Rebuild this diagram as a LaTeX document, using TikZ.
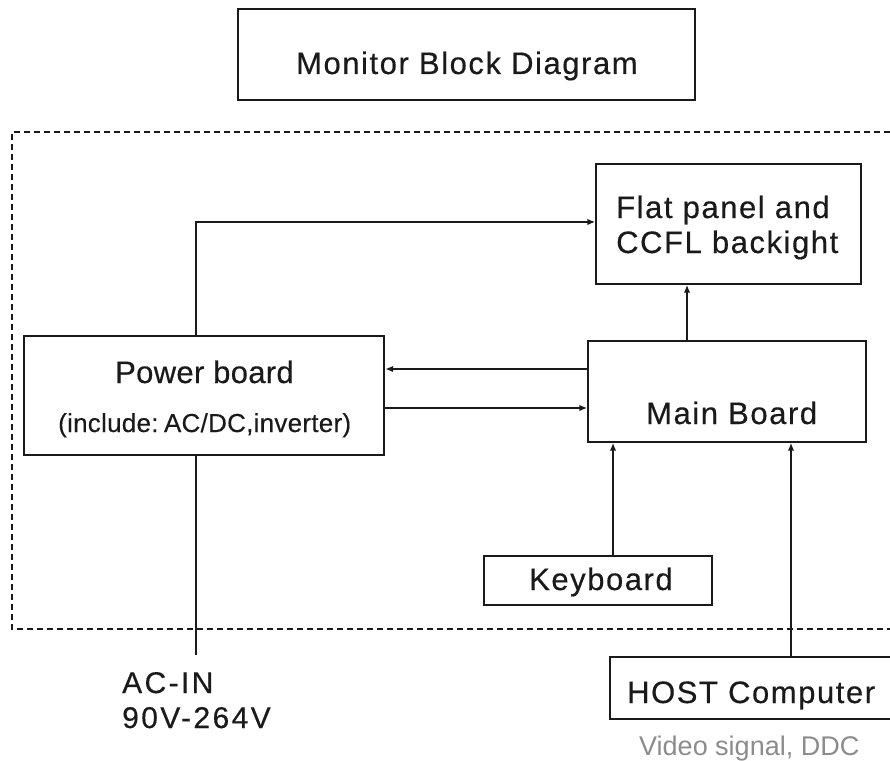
\documentclass[tikz,border=0pt]{standalone}
\usepackage{fontspec}
\setmainfont{Liberation Sans}
\newfontfamily\lblA[LetterSpace=5,FakeBold=0.4]{Liberation Sans}
\newfontfamily\lblB[LetterSpace=1,FakeBold=0.4]{Liberation Sans}
\newfontfamily\lblC[LetterSpace=1,FakeBold=0.3]{Liberation Sans}
\newfontfamily\lblD[LetterSpace=8,FakeBold=0.4]{Liberation Sans}
\newfontfamily\lblE[LetterSpace=0]{Liberation Sans}
\usetikzlibrary{arrows.meta}
\definecolor{ink}{HTML}{1A1A1A}
\definecolor{note}{HTML}{8C8C8C}
\tikzset{
  box/.style={draw=ink, line width=1.4pt, rectangle, inner sep=0pt},
  thickbox/.style={draw=ink, line width=2.4pt, rectangle, inner sep=0pt},
  txt/.style={anchor=base west, inner sep=0pt, text=ink, font=\lblA\fontsize{31}{36}\selectfont},
  conn/.style={draw=ink, line width=1.8pt},
  arr/.style={conn, -{Latex[length=8pt,width=6.5pt]}},
  frame/.style={draw=ink, line width=1.8pt, dash pattern=on 6pt off 4pt}
}
\begin{document}
\begin{tikzpicture}[x=1pt,y=-1pt]
\useasboundingbox (0,0) rectangle (890,760);
\clip (0,0) rectangle (890,760);
\fill[white] (0,0) rectangle (890,760);

% dashed enclosure (open to the right)
\draw[frame] (900,132) -- (12,132) -- (12,629) -- (900,629);

% boxes
\node[box, minimum width=457pt, minimum height=91pt] (title) at (466.5,54.5) {};
\node[box, minimum width=265pt, minimum height=120pt] (flat) at (728.5,224) {};
\node[thickbox, minimum width=360pt, minimum height=119pt] (power) at (204,395.5) {};
\node[box, minimum width=278pt, minimum height=101pt] (main) at (727,391.5) {};
\node[box, minimum width=228pt, minimum height=49pt] (key) at (598,580.5) {};
\node[box, minimum width=300pt, minimum height=62pt] (host) at (760,688) {};

% texts
\node[txt] (t1) at (296,74) {Monitor Block Diagram};
\node[txt] (t2) at (616,218) {Flat panel and};
\node[txt] (t3) at (616,253) {CCFL backight};
\node[txt, font=\lblB\fontsize{31}{36}\selectfont] (t4) at (115,383) {Power board};
\node[txt, font=\lblC\fontsize{26}{30}\selectfont] (t5) at (58,432) {(include:\kern-2pt\ AC/DC,inverter)};
\node[txt] (t6) at (646,424) {Main Board};
\node[txt] (t7) at (529,590) {Keyboard};
\node[txt, font=\lblD\fontsize{30}{34}\selectfont] (t8) at (122,693) {AC-IN};
\node[txt, font=\lblD\fontsize{30}{34}\selectfont] (t9) at (122,728) {90V-264V};
\node[txt] (t10) at (627,703) {HOST Computer};
\node[txt, text=note, font=\lblE\fontsize{27}{32}\selectfont] (t11) at (639,755) {Video signal, DDC};

% helper coordinates
\coordinate (pv) at (196,222);
\coordinate (mf) at (687,300);
\coordinate (ret) at (400,369);
\coordinate (fwd) at (400,408);
\coordinate (kx) at (613,500);
\coordinate (hx) at (791,500);
\coordinate (acin) at (196,655);

% connectors
\draw[arr] (power.north -| pv) |- (flat.west |- pv);
\draw[arr] (main.north -| mf) -- (flat.south -| mf);
\draw[arr] (main.west |- ret) -- (power.east |- ret);
\draw[arr] (power.east |- fwd) -- (main.west |- fwd);
\draw[arr] (key.north -| kx) -- (main.south -| kx);
\draw[arr] (host.north -| hx) -- (main.south -| hx);
\draw[conn] (power.south -| acin) -- (acin);
\end{tikzpicture}
\end{document}
